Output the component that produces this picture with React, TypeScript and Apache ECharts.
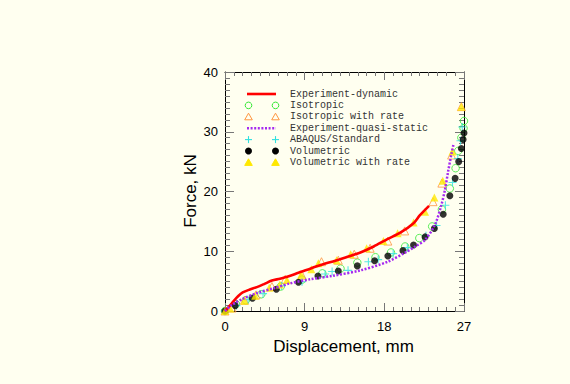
import React, { useEffect, useRef } from "react";
import * as echarts from "echarts";

// ---- data ----
const xMin = 0, xMax = 27, xStep = 9;
const yMin = 0, yMax = 40, yStep = 10;

const legendNames = [
  "Experiment-dynamic",
  "Isotropic",
  "Isotropic with rate",
  "Experiment-quasi-static",
  "ABAQUS/Standard",
  "Volumetric",
  "Volumetric with rate",
];

const dynamicX = [0, 0.5, 1.0, 1.5, 2.0, 2.8, 3.6, 4.4, 5.3, 6.2, 7.2, 8.3, 9.3, 10.2, 11.0, 12.2, 13.7, 15.3, 16.8, 18.3, 19.8, 21.3, 22.0, 23.05];
const dynamicY = [0, 0.8, 1.7, 2.5, 3.1, 3.6, 4.0, 4.5, 5.1, 5.4, 5.8, 6.4, 6.9, 7.4, 7.8, 8.3, 9.0, 9.8, 10.8, 12.0, 13.1, 14.7, 16.0, 17.6];

const quasiX = [0, 0.75, 2.1, 3.6, 5.5, 7.3, 9.6, 12.2, 15.3, 18.3, 20.5, 21.5, 22.6, 23.7, 24.4, 24.85, 25.2, 25.6, 25.8];
const quasiY = [0, 1.0, 2.1, 3.0, 3.8, 4.6, 5.3, 5.9, 6.8, 8.2, 9.9, 10.8, 11.9, 14.4, 17.5, 20.3, 23.3, 26.4, 27.8];

const isotropic = [[0, 0], [1.24, 1.15], [2.35, 1.8], [4.1, 2.8], [6.3, 4.1], [8.7, 5.25], [11.0, 6.3], [13.05, 7.1], [14.95, 8.1], [17.0, 9.0], [18.75, 9.8], [20.35, 10.8], [21.95, 12.2], [23.4, 14.15], [24.5, 17.0], [25.4, 20.5], [26.05, 23.9], [26.35, 26.8], [26.7, 29.0], [26.95, 30.6], [27.0, 31.8]];

const isotropicRate = [[0, 0], [0.8, 0.5], [2.2, 1.8], [3.5, 2.7], [5.3, 4.1], [6.8, 5.3], [8.7, 6.0], [10.9, 8.25], [12.8, 8.5], [14.6, 9.5], [16.4, 10.5], [18.4, 11.7], [20.3, 13.4], [23.5, 18.3], [24.5, 21.4], [25.6, 26.1], [26.7, 34.2]];

const abaqus = [[0, 0], [1.3, 0.9], [2.6, 1.9], [4.3, 2.9], [6.4, 4.2], [8.7, 4.9], [11.3, 6.2], [12.1, 6.6], [13.9, 6.8], [16.2, 8.25], [17.3, 8.6], [19.0, 9.6], [20.6, 10.6], [22.7, 12.6], [23.9, 14.3], [24.9, 17.7], [25.7, 21.5], [26.3, 25.5], [26.6, 28.5], [26.8, 30.8]];

const volumetric = [[0, 0], [1.15, 0.9], [3.1, 2.15], [5.8, 3.65], [8.3, 4.8], [10.5, 5.85], [12.8, 6.7], [14.95, 7.55], [16.9, 8.4], [18.4, 9.2], [20.1, 10.1], [21.3, 11.05], [22.6, 12.4], [23.65, 13.8], [24.65, 16.2], [25.4, 19.3], [26.0, 22.2], [26.4, 25.0], [26.7, 27.2], [26.9, 28.7], [27.0, 29.8]];

const volumetricRate = [[0, 0], [0.6, 0.4], [2.2, 1.7], [3.4, 2.55], [5.0, 3.9], [6.2, 4.45], [7.0, 5.2], [8.6, 6.05], [9.75, 7.0], [10.55, 8.0], [12.6, 8.5], [14.2, 9.5], [16.0, 10.5], [17.9, 11.7], [19.5, 13.0], [21.3, 14.8], [22.6, 16.6], [23.65, 19.0], [24.6, 21.8], [25.7, 26.7], [26.7, 34.2]];

const axisXTitle = "Displacement, mm";
const axisYTitle = "Force, kN";

// ---- styles ----
const BG = "#FFFFF0";
const RED = "#FF0000";
const GREEN = "#33E833";
const ORANGE = "#FF9640";
const PURPLE = "#A52AF0";
const CYAN = "#30E0E0";
const BLACK = "#000000";
const YELLOW = "#FFE800";
const PLUS = "path://M3.45,0H4.55V3.45H8V4.55H4.55V8H3.45V4.55H0V3.45H3.45Z";

const GRID = { left: 225, top: 72, width: 239, height: 239 };

function zip(xs: number[], ys: number[]) {
  return xs.map((x, i) => [x, ys[i]]);
}

function legendGraphics() {
  const els: any[] = [];
  const x1 = 248.5, x2 = 275.5, tx = 290, y0 = 94, dy = 11.4;
  const tri = (cx: number, cy: number, fill: string, stroke: string) => ({
    type: "polygon",
    shape: { points: [[cx, cy - 3.6], [cx + 3.8, cy + 3], [cx - 3.8, cy + 3]] },
    style: { fill, stroke, lineWidth: 1 },
  });
  legendNames.forEach((name, i) => {
    const y = y0 + i * dy;
    els.push({
      type: "text",
      x: tx,
      y,
      style: { text: name, fill: "#333333", font: "10px 'Liberation Mono', 'DejaVu Sans Mono', monospace", verticalAlign: "middle", align: "left" },
    });
    [x1, x2].forEach((cx) => {
      if (i === 1) els.push({ type: "circle", shape: { cx, cy: y, r: 3.3 }, style: { fill: "none", stroke: GREEN, lineWidth: 1 } });
      if (i === 2) els.push(tri(cx, y, "none", ORANGE));
      if (i === 4) {
        els.push({ type: "line", shape: { x1: cx - 3.5, y1: y, x2: cx + 3.5, y2: y }, style: { stroke: CYAN, lineWidth: 1.1 } });
        els.push({ type: "line", shape: { x1: cx, y1: y - 3.5, x2: cx, y2: y + 3.5 }, style: { stroke: CYAN, lineWidth: 1.1 } });
      }
      if (i === 5) els.push({ type: "circle", shape: { cx, cy: y, r: 3.5 }, style: { fill: BLACK } });
      if (i === 6) els.push(tri(cx, y, YELLOW, YELLOW));
    });
    if (i === 0) els.push({ type: "line", shape: { x1: 247, y1: y, x2: 276, y2: y }, style: { stroke: RED, lineWidth: 2.6 } });
    if (i === 3) els.push({ type: "line", shape: { x1: 247, y1: y, x2: 276, y2: y }, style: { stroke: PURPLE, lineWidth: 2.5, lineDash: [2, 1.6] } });
  });
  els.push({
    type: "text",
    x: GRID.left + GRID.width / 2 - 1,
    y: 346,
    style: { text: axisXTitle, fill: "#000", font: "17px 'Liberation Sans', Arial, sans-serif", align: "center", verticalAlign: "middle" },
  });
  els.push({
    type: "text",
    x: 190,
    y: 191,
    rotation: Math.PI / 2,
    style: { text: axisYTitle, fill: "#000", font: "17px 'Liberation Sans', Arial, sans-serif", align: "center", verticalAlign: "middle" },
  });
  return els;
}

export default function App() {
  const ref = useRef<HTMLDivElement>(null);
  useEffect(() => {
    if (!ref.current) return;
    const chart = echarts.init(ref.current, null, { renderer: "svg" });
    const labelFont = { color: "#000", fontSize: 13, fontFamily: "'Liberation Sans', Arial, sans-serif" };
    const baseX = {
      type: "value",
      min: xMin,
      max: xMax,
      interval: xStep,
      splitLine: { show: false },
      axisLine: { show: true, onZero: false, lineStyle: { color: "#000", width: 1 } },
      axisTick: { show: true, inside: true, length: 8, lineStyle: { color: "#777" } },
      minorTick: { show: true, splitNumber: 9, length: 4, lineStyle: { color: "#777" } },
      minorSplitLine: { show: false },
    };
    const baseY = {
      type: "value",
      min: yMin,
      max: yMax,
      interval: yStep,
      splitLine: { show: false },
      axisLine: { show: true, onZero: false, lineStyle: { color: "#000", width: 1 } },
      axisTick: { show: true, inside: true, length: 9, lineStyle: { color: "#777" } },
      minorTick: { show: true, splitNumber: 10, length: 5, lineStyle: { color: "#777" } },
      minorSplitLine: { show: false },
    };
    const scatter = (name: string, data: number[][], symbol: string, size: number, itemStyle: any) => ({
      name,
      type: "scatter",
      data,
      symbol,
      symbolSize: size,
      itemStyle,
      clip: true,
      xAxisIndex: 0,
      yAxisIndex: 0,
    });
    chart.setOption({
      animation: false,
      backgroundColor: BG,
      grid: { ...GRID },
      xAxis: [
        { ...baseX, position: "bottom", axisLabel: { ...labelFont, margin: 9 } },
        { ...baseX, position: "top", axisLabel: { show: false } },
      ],
      yAxis: [
        { ...baseY, position: "left", axisLabel: { ...labelFont, margin: 7 } },
        { ...baseY, position: "right", axisLabel: { show: false } },
      ],
      graphic: legendGraphics(),
      series: [
        {
          name: legendNames[0],
          type: "line",
          data: zip(dynamicX, dynamicY),
          smooth: 0.3,
          showSymbol: false,
          lineStyle: { color: RED, width: 2.6 },
          clip: true,
        },
        scatter(legendNames[1], isotropic, "circle", 7.5, { color: "rgba(0,0,0,0)", borderColor: GREEN, borderWidth: 1 }),
        scatter(legendNames[2], isotropicRate, "triangle", 8, { color: "rgba(0,0,0,0)", borderColor: ORANGE, borderWidth: 1 }),
        {
          name: legendNames[3],
          type: "line",
          data: zip(quasiX, quasiY),
          smooth: 0.3,
          showSymbol: false,
          lineStyle: { color: PURPLE, width: 2.5, type: [2, 1.6] },
          clip: true,
        },
        scatter(legendNames[4], abaqus, PLUS, 8, { color: CYAN }),
        scatter(legendNames[5], volumetric, "circle", 7, { color: BLACK }),
        scatter(legendNames[6], volumetricRate, "triangle", 8, { color: YELLOW }),
      ],
    });
    return () => chart.dispose();
  }, []);
  return <div ref={ref} style={{ position: "fixed", left: 0, top: 0, width: 570, height: 384 }} />;
}
